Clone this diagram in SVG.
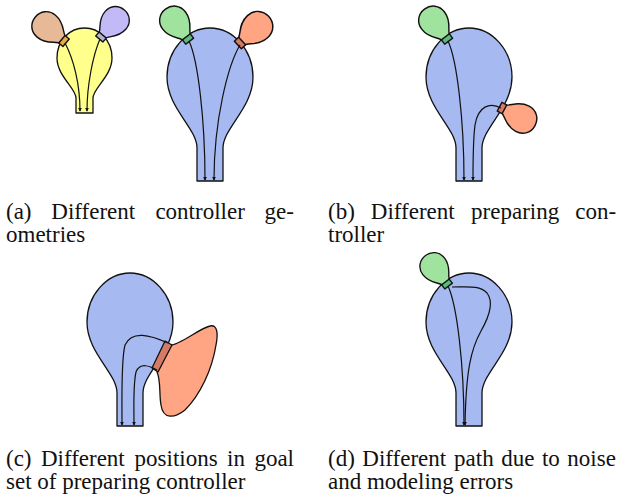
<svg xmlns="http://www.w3.org/2000/svg" width="626" height="498" viewBox="0 0 626 498">
<defs>
<style>
.out{stroke:#111;stroke-width:1.3;stroke-linejoin:round}
.trk{fill:none;stroke:#111;stroke-width:1.2;marker-end:url(#ah)}
.cap{font-family:"Liberation Serif","Times New Roman",serif;font-size:23px;fill:#111}
.yel{fill:#ffff8c}
.blu{fill:#a6b9f0}
.grn{fill:#9fe39f}
.grnc{fill:#5cb87c}
.org{fill:#ffa584}
.orgc{fill:#d57a66}
.tan{fill:#e8b996}
.tanc{fill:#e8a848}
.pur{fill:#c2baf6}
.purc{fill:#b4b4c8}
</style>
<marker id="ah" viewBox="0 0 6 6" refX="5" refY="3" markerWidth="4" markerHeight="4" markerUnits="userSpaceOnUse" orient="auto">
<path d="M0,0 L6,3 L0,6 Z" fill="#111"/>
</marker>
<path id="bulb" d="M197,181 L197,148 C197,128 167,108 167,77 C167,50 187,28 210,28 C233,28 253,50 253,77 C253,108 223,128 223,148 L223,181 Z"/>
<path id="bal" d="M-3.5,0 C-4,-6 -13,-9 -13,-21 C-13,-29 -7,-34 0,-34 C7,-34 13,-29 13,-21 C13,-9 4,-6 3.5,0 Z"/>
<rect id="con" x="-4.5" y="-2.5" width="9" height="5"/>
</defs>

<g id="panel-a-small">
<path class="yel out" d="M76,113 L76,98 C76,88 57,76 57,58 C57,40 70,28 84.5,28 C99,28 112,40 112,58 C112,76 93,88 93,98 L93,113 Z"/>
<g transform="translate(64,41) rotate(-50) scale(1.1)"><use href="#bal" class="tan out"/><use href="#con" class="tanc out"/></g>
<g transform="translate(101,37) rotate(41) scale(1.05)"><use href="#bal" class="pur out"/><use href="#con" class="purc out"/></g>
</g>

<g id="panel-a-large">
<use href="#bulb" class="blu out"/>
<g transform="translate(188,39) rotate(-37) scale(1.1)"><use href="#bal" class="grn out"/><use href="#con" class="grnc out"/></g>
<g transform="translate(240,43) rotate(47) scale(1.15)"><use href="#bal" class="org out"/><use href="#con" class="orgc out"/></g>
</g>

<g id="panel-b">
<use href="#bulb" class="blu out" transform="translate(259,0)"/>
<g transform="translate(447,39) rotate(-37) scale(1.1)"><use href="#bal" class="grn out"/><use href="#con" class="grnc out"/></g>
<g transform="translate(502,108) rotate(118) scale(1.1)"><use href="#bal" class="org out"/><use href="#con" class="orgc out"/></g>
</g>

<g id="panel-c">
<use href="#bulb" class="blu out" transform="translate(-80,245)"/>
<path class="org out" d="M171,345 C180,345 200,328 210,326 C218,324 218,335 216,345 C212,370 200,395 185,410 C175,418 163,420 161,405 C159,395 161,380 157,372 Z"/>
<polygon class="orgc out" points="165,341 172,345 158,372 152,368"/>
</g>

<g id="panel-d">
<use href="#bulb" class="blu out" transform="translate(259,245)"/>
<g transform="translate(447,284) rotate(-37) scale(1.05)"><use href="#bal" class="grn out"/><use href="#con" class="grnc out"/></g>
</g>

<g id="connectors">
<path class="trk" d="M65,43 C74,60 80,85 80,111"/>
<path class="trk" d="M100,39 C93,55 87,85 87,111"/>
<path class="trk" d="M189,41 C198,60 205,120 205,180"/>
<path class="trk" d="M240,45 C228,65 214,120 214,180"/>
<path class="trk" d="M448,41 C457,60 464,120 464,180"/>
<path class="trk" d="M501,108 C490,102 478,106 475,125 C473,140 473,160 473,180"/>
<path class="trk" d="M168,343 C150,335 132,330 125,345 C121,360 122,400 122,425"/>
<path class="trk" d="M157,370 C150,366 140,362 136,372 C133,385 134,405 134,425"/>
<path class="trk" d="M448,286 C457,305 464,365 464,425"/>
<path class="trk" d="M452,287 C467,287 480,285 487,293 C494,302 489,317 481,331 C471,349 466,370 465,425"/>
</g>

<g id="captions" class="cap">
<text y="219"><tspan x="6">(a)</tspan><tspan x="51.3">Different</tspan><tspan x="155.4">controller</tspan><tspan x="264.6">ge-</tspan></text>
<text x="6" y="242">ometries</text>
<text y="219"><tspan x="328">(b)</tspan><tspan x="370.8">Different</tspan><tspan x="471.1">preparing</tspan><tspan x="575.2">con-</tspan></text>
<text x="328" y="242">troller</text>
<text y="466"><tspan x="6">(c)</tspan><tspan x="40.9">Different</tspan><tspan x="134.6">positions</tspan><tspan x="227.1">in</tspan><tspan x="254.4">goal</tspan></text>
<text x="6" y="489">set of preparing controller</text>
<text y="466"><tspan x="328">(d)</tspan><tspan x="362.3">Different</tspan><tspan x="454.1">path</tspan><tspan x="501.2">due</tspan><tspan x="541.9">to</tspan><tspan x="567.3">noise</tspan></text>
<text x="328" y="489">and modeling errors</text>
</g>
</svg>
